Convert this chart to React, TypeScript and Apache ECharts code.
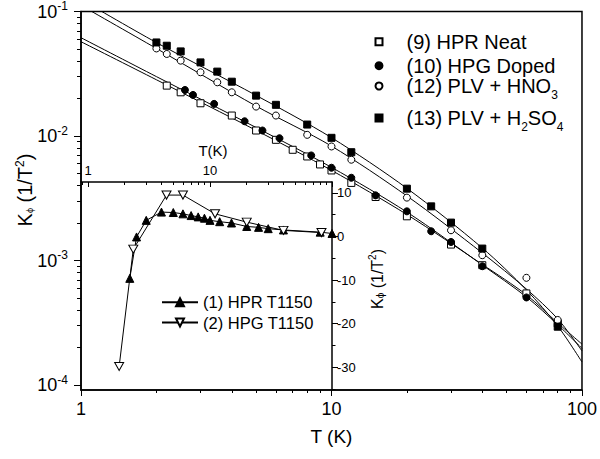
import React, { useEffect, useRef } from 'react';
import * as echarts from 'echarts';

const FONT = '"Liberation Sans", Arial, Helvetica, sans-serif';
const INK = '#000';

// ---------------- main panel data (T in K, K_phi in 1/T^2) ----------------
const hprNeatT = [2.2, 2.5, 3, 4, 5, 6, 7, 8, 9, 10, 12, 15, 20, 30, 40, 60, 80];
const hprNeatK = [0.02539, 0.02244, 0.01832, 0.0146, 0.01107, 0.00932, 0.00775, 0.00685, 0.00591, 0.00529, 0.0042, 0.003236, 0.002265, 0.001343, 0.000917, 0.000544, 0.000313];

const hpgDopedT = [2.6, 2.8, 3.4, 4.5, 5.3, 6.2, 8.3, 10, 12, 15, 20, 25, 30, 40, 60, 80];
const hpgDopedK = [0.02344, 0.02138, 0.01811, 0.01314, 0.01107, 0.0096, 0.00698, 0.00556, 0.00462, 0.003336, 0.002483, 0.001718, 0.001409, 0.0009, 0.000505, 0.000322];

const plvHno3T = [2, 2.2, 2.5, 3, 3.5, 4, 5, 6, 8, 10, 12, 20, 30, 40, 60, 80];
const plvHno3K = [0.0505, 0.0456, 0.0403, 0.0325, 0.027, 0.02244, 0.01723, 0.0146, 0.01022, 0.00824, 0.00645, 0.0032, 0.00175, 0.001103, 0.000726, 0.000333];

const plvH2so4T = [2, 2.2, 2.5, 3, 3.5, 4, 5, 6, 8, 10, 12, 20, 25, 30, 40, 80];
const plvH2so4K = [0.0564, 0.0531, 0.0478, 0.039, 0.0329, 0.0273, 0.0211, 0.0178, 0.01236, 0.00967, 0.00741, 0.003776, 0.002723, 0.002016, 0.001247, 0.000294];

// fitted curves
const fitT = [1, 2, 5, 10, 20, 40, 60, 80, 100];
const hprNeatFit = [0.0572, 0.0283, 0.0111, 0.0053, 0.00234, 0.00093, 0.00053, 0.000315, 0.000213];
const hpgDopedFit = [0.0616, 0.03, 0.0117, 0.0056, 0.00245, 0.00092, 0.00051, 0.000305, 0.000197];
const plvHno3Fit = [0.112, 0.0505, 0.0174, 0.0083, 0.0033, 0.00115, 0.00059, 0.00034, 0.000188];
const plvH2so4Fit = [0.125, 0.0563, 0.0212, 0.0097, 0.0038, 0.00126, 0.00058, 0.000298, 0.000153];

// ---------------- inset data (T in K, K_phi linear) ----------------
const hprT1150T = [2.2, 2.5, 3, 4, 5, 6, 7, 8, 9, 10, 12, 15, 20, 25, 30, 40, 80, 100];
const hprT1150K = [-9.6, -0.1, 3.7, 5.6, 5.5, 5.2, 4.8, 4.5, 4.2, 3.7, 3.4, 3.1, 2.3, 2.1, 1.8, 1.5, 1.0, 0.7];

const hpgT1150T = [1.8, 2.35, 4.4, 6.0, 11, 20, 40, 82];
const hpgT1150K = [-29.8, -2.9, 9.5, 9.5, 5.2, 3.3, 1.4, 0.9];

// ---------------- axes ----------------
const mainXTicks = [1, 10, 100];
const mainYTicks = [1e-4, 1e-3, 1e-2, 1e-1];
const insetXTicks = [1, 10, 100];
const insetXLabels = [1, 10];
const insetYTicks = [-30, -20, -10, 0, 10];
const insetYMinor = [-35, -25, -15, -5, 5];
const minorMultipliers = [2, 3, 4, 5, 6, 7, 8, 9];

const X_MIN = 1, X_MAX = 100, Y_MIN = 9.12e-5, Y_MAX = 0.1;
const IX_MIN = 0.876, IX_MAX = 100, IY_MIN = -35.2, IY_MAX = 12.5;

const log10 = Math.log10;
function minorLogs(lo: number, hi: number): number[] {
  const out: number[] = [];
  for (let e = Math.floor(lo) - 1; e <= Math.ceil(hi); e++) {
    for (const m of minorMultipliers) {
      const v = e + log10(m);
      if (v > lo + 1e-9 && v < hi - 1e-9) out.push(v);
    }
  }
  return out;
}

const pairs = (xs: number[], ys: number[]) => xs.map((x, i) => [x, ys[i]]);

const mainSets = [
  { name: '(9) HPR Neat', T: hprNeatT, K: hprNeatK, fit: hprNeatFit, symbol: 'rect', fill: '#fff' },
  { name: '(10) HPG Doped', T: hpgDopedT, K: hpgDopedK, fit: hpgDopedFit, symbol: 'circle', fill: INK },
  { name: '(12) PLV + HNO3', T: plvHno3T, K: plvHno3K, fit: plvHno3Fit, symbol: 'circle', fill: '#fff' },
  { name: '(13) PLV + H2SO4', T: plvH2so4T, K: plvH2so4K, fit: plvH2so4Fit, symbol: 'rect', fill: INK },
];
const legendTops = [31.7, 55.7, 76, 108];

const fmtName = (n: string) =>
  n.replace('HNO3', 'HNO{s|3}').replace('H2SO4', 'H{s|2}SO{s|4}');

const hiddenAxis = {
  axisLine: { show: false, onZero: false },
  axisTick: { show: false },
  axisLabel: { show: false },
  splitLine: { show: false },
};

function buildOption(): any {
  const lx = mainXTicks.map(log10);
  const ly = mainYTicks.map(log10);
  const ix = insetXTicks.map(log10);

  const series: any[] = [];
  mainSets.forEach((s) => {
    series.push({
      type: 'line',
      name: 'fit ' + s.name,
      xAxisIndex: 0,
      yAxisIndex: 0,
      data: pairs(fitT, s.fit),
      symbol: 'none',
      smooth: 0.3,
      lineStyle: { color: INK, width: 1 },
      silent: true,
      z: 2,
    });
  });
  mainSets.forEach((s) => {
    series.push({
      type: 'scatter',
      name: s.name,
      xAxisIndex: 0,
      yAxisIndex: 0,
      data: pairs(s.T, s.K),
      symbol: s.symbol,
      symbolSize: 7,
      itemStyle: { color: s.fill, borderColor: INK, borderWidth: 1, opacity: 1 },
      z: 3,
    });
  });
  series.push({
    type: 'line',
    name: '(1) HPR T1150',
    xAxisIndex: 3,
    yAxisIndex: 3,
    data: pairs(hprT1150T, hprT1150K),
    symbol: 'triangle',
    symbolSize: 8,
    showAllSymbol: true,
    itemStyle: { color: INK, borderColor: INK, borderWidth: 1 },
    lineStyle: { color: INK, width: 1 },
    z: 4,
  });
  series.push({
    type: 'line',
    name: '(2) HPG T1150',
    xAxisIndex: 3,
    yAxisIndex: 3,
    data: pairs(hpgT1150T, hpgT1150K),
    symbol: 'path://M0,0L10,0L5,8.66Z',
    symbolSize: [9, 8],
    showAllSymbol: true,
    itemStyle: { color: '#fff', borderColor: INK, borderWidth: 1 },
    lineStyle: { color: INK, width: 1 },
    z: 4,
  });

  const mainLegends = mainSets.map((s, i) => ({
    data: [s.name],
    left: 374.5,
    top: legendTops[i],
    orient: 'vertical',
    padding: 0,
    itemWidth: 7,
    itemHeight: 7,
    selectedMode: false,
    formatter: fmtName,
    textStyle: {
      fontSize: 20,
      fontFamily: FONT,
      color: INK,
      padding: [0, 0, 0, 19],
      rich: {
        s: { fontSize: 12, fontFamily: FONT, color: INK, padding: [18, 0, 0, 0] },
      },
    },
  }));
  const insetLegends = ['(1) HPR T1150', '(2) HPG T1150'].map((n, i) => ({
    data: [n],
    left: 161,
    top: i === 0 ? 293.7 : 314,
    orient: 'vertical',
    padding: 0,
    itemWidth: 36,
    itemHeight: 10,
    selectedMode: false,
    textStyle: { fontSize: 16.5, fontFamily: FONT, color: INK },
  }));

  return {
    animation: false,
    backgroundColor: '#fff',
    textStyle: { fontFamily: FONT, color: INK },
    grid: [
      { left: 81, top: 10.5, width: 504, height: 379.5, show: true, borderColor: INK, borderWidth: 1.5, backgroundColor: 'transparent' },
      { left: 81, top: 182, width: 251, height: 208 },
    ],
    legend: [...mainLegends, ...insetLegends],
    xAxis: [
      { type: 'log', logBase: 10, gridIndex: 0, position: 'bottom', min: X_MIN, max: X_MAX, ...hiddenAxis },
      {
        type: 'value', gridIndex: 0, position: 'bottom', min: log10(X_MIN), max: log10(X_MAX),
        axisLine: { show: true, onZero: false, lineStyle: { color: INK, width: 1.5 } },
        axisTick: { show: true, customValues: lx, length: 6, lineStyle: { color: INK, width: 1 } },
        axisLabel: { show: true, customValues: lx, formatter: (v: number) => String(Math.round(Math.pow(10, v))), fontSize: 18, fontFamily: FONT, color: INK, margin: 10 },
        splitLine: { show: false },
        name: 'T (K)', nameLocation: 'middle', nameGap: 37,
        nameTextStyle: { fontSize: 19, fontFamily: FONT, color: INK },
      },
      {
        type: 'value', gridIndex: 0, position: 'bottom', min: log10(X_MIN), max: log10(X_MAX),
        axisLine: { show: false, onZero: false },
        axisTick: { show: true, customValues: minorLogs(log10(X_MIN), log10(X_MAX)), length: 3, lineStyle: { color: INK, width: 1 } },
        axisLabel: { show: false }, splitLine: { show: false },
      },
      { type: 'log', logBase: 10, gridIndex: 1, position: 'top', min: IX_MIN, max: IX_MAX, ...hiddenAxis },
      {
        type: 'value', gridIndex: 1, position: 'top', min: log10(IX_MIN), max: log10(IX_MAX),
        axisLine: { show: true, onZero: false, lineStyle: { color: INK, width: 1.5 } },
        axisTick: { show: true, inside: true, customValues: ix, length: 5, lineStyle: { color: INK, width: 1 } },
        axisLabel: { show: true, customValues: insetXLabels.map(log10), formatter: (v: number) => String(Math.round(Math.pow(10, v))), fontSize: 13, fontFamily: FONT, color: INK, margin: 5 },
        splitLine: { show: false },
        name: 'T(K)', nameLocation: 'middle', nameGap: 24,
        nameTextStyle: { fontSize: 15, fontFamily: FONT, color: INK, padding: [0, 0, 0, 13] },
      },
      {
        type: 'value', gridIndex: 1, position: 'top', min: log10(IX_MIN), max: log10(IX_MAX),
        axisLine: { show: false, onZero: false },
        axisTick: { show: true, inside: true, customValues: minorLogs(log10(IX_MIN), log10(IX_MAX)), length: 3, lineStyle: { color: INK, width: 1 } },
        axisLabel: { show: false }, splitLine: { show: false },
      },
    ],
    yAxis: [
      { type: 'log', logBase: 10, gridIndex: 0, position: 'left', min: Y_MIN, max: Y_MAX, ...hiddenAxis },
      {
        type: 'value', gridIndex: 0, position: 'left', min: log10(Y_MIN), max: log10(Y_MAX),
        axisLine: { show: true, onZero: false, lineStyle: { color: INK, width: 1.5 } },
        axisTick: { show: true, customValues: ly, length: 7, lineStyle: { color: INK, width: 1 } },
        axisLabel: {
          show: true, customValues: ly, margin: 13,
          formatter: (v: number) => `{b|10}{s|${Math.round(v)}}`,
          rich: {
            b: { fontSize: 18, fontFamily: FONT, color: INK },
            s: { fontSize: 12, fontFamily: FONT, color: INK, padding: [0, 0, 11, 0] },
          },
        },
        splitLine: { show: false },
      },
      {
        type: 'value', gridIndex: 0, position: 'left', min: log10(Y_MIN), max: log10(Y_MAX),
        axisLine: { show: false, onZero: false },
        axisTick: { show: true, customValues: minorLogs(log10(Y_MIN), log10(Y_MAX)), length: 4, lineStyle: { color: INK, width: 1 } },
        axisLabel: { show: false }, splitLine: { show: false },
      },
      {
        type: 'value', gridIndex: 1, position: 'right', min: IY_MIN, max: IY_MAX,
        axisLine: { show: true, onZero: false, lineStyle: { color: INK, width: 1.5 } },
        axisTick: { show: true, customValues: insetYTicks, length: 6, lineStyle: { color: INK, width: 1 } },
        axisLabel: { show: true, customValues: insetYTicks, fontSize: 13, fontFamily: FONT, color: INK, margin: 5 },
        splitLine: { show: false },
      },
      {
        type: 'value', gridIndex: 1, position: 'right', min: IY_MIN, max: IY_MAX,
        axisLine: { show: false, onZero: false },
        axisTick: { show: true, customValues: insetYMinor, length: 3.5, lineStyle: { color: INK, width: 1 } },
        axisLabel: { show: false }, splitLine: { show: false },
      },
    ],
    graphic: [
      {
        type: 'text', x: 25, y: 190, rotation: Math.PI / 2,
        style: {
          text: 'K{s|ϕ} (1/T{p|2})',
          fontSize: 20, fontFamily: FONT, fill: INK, align: 'center', verticalAlign: 'middle',
          rich: {
            s: { fontSize: 9, fontFamily: FONT, fill: INK, padding: [10, 0, 0, 0] },
            p: { fontSize: 12, fontFamily: FONT, fill: INK, padding: [0, 0, 11, 0] },
          },
        },
      },
      {
        type: 'text', x: 377, y: 279, rotation: Math.PI / 2,
        style: {
          text: 'K{s|ϕ} (1/T{p|2})',
          fontSize: 16, fontFamily: FONT, fill: INK, align: 'center', verticalAlign: 'middle',
          rich: {
            s: { fontSize: 10, fontFamily: FONT, fill: INK, padding: [6, 0, 0, 0] },
            p: { fontSize: 10, fontFamily: FONT, fill: INK, padding: [0, 0, 9, 0] },
          },
        },
      },
    ],
    series,
  };
}

export default function App() {
  const ref = useRef<HTMLDivElement>(null);
  useEffect(() => {
    if (!ref.current) return;
    const chart = echarts.init(ref.current, undefined, { renderer: 'svg' });
    chart.setOption(buildOption());
    return () => chart.dispose();
  }, []);
  return (
    <div
      ref={ref}
      style={{ position: 'absolute', left: 0, top: 0, width: 600, height: 459, background: '#fff' }}
    />
  );
}
